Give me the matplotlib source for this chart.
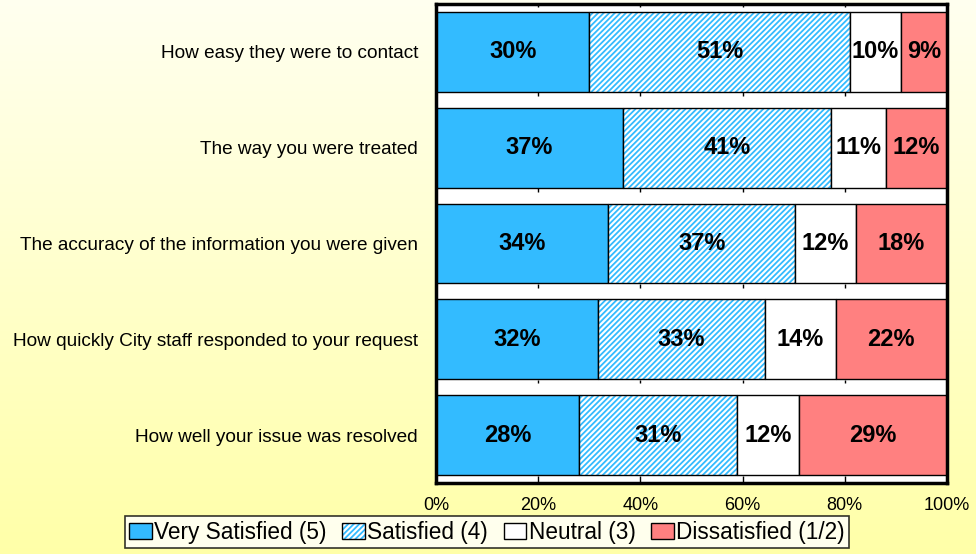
import numpy as np
import matplotlib.pyplot as plt
from matplotlib.patches import Patch

plt.rcParams["font.family"] = ["Liberation Sans", "DejaVu Sans"]
plt.rcParams["hatch.linewidth"] = 1.3

categories = [
    "How easy they were to contact",
    "The way you were treated",
    "The accuracy of the information you were given",
    "How quickly City staff responded to your request",
    "How well your issue was resolved",
]
very_satisfied = [30, 37, 34, 32, 28]
satisfied = [51, 41, 37, 33, 31]
neutral = [10, 11, 12, 14, 12]
dissatisfied = [9, 12, 18, 22, 29]
series_names = ["Very Satisfied (5)", "Satisfied (4)", "Neutral (3)", "Dissatisfied (1/2)"]

blue = "#33BBFF"
red = "#FF8080"
hatch = "//////"

fig = plt.figure(figsize=(9.76, 5.54), dpi=100)

# gradient background
bg = fig.add_axes([0, 0, 1, 1], zorder=-10)
grad = np.linspace(0, 1, 256)[:, None]
top = np.array([1.0, 1.0, 0.94])
bot = np.array([1.0, 1.0, 0.66])
img = top[None, None, :] * (1 - grad[..., None]) + bot[None, None, :] * grad[..., None]
bg.imshow(img, aspect="auto", extent=[0, 1, 0, 1])
bg.axis("off")

ax = fig.add_axes([436 / 976, 1 - 483 / 554, 511 / 976, 479 / 554])
ax.set_facecolor("white")

data = np.array([very_satisfied, satisfied, neutral, dissatisfied], dtype=float)
share = data / data.sum(axis=0) * 100
y = np.arange(len(categories))
h = 0.835

left = np.zeros(len(categories))
for k in range(4):
    if k == 1:
        ax.barh(y, share[k], left=left, height=h, color="white", edgecolor=blue,
                hatch=hatch, linewidth=0)
        ax.barh(y, share[k], left=left, height=h, color="none", edgecolor="black",
                linewidth=1)
    else:
        fc = [blue, None, "white", red][k]
        ax.barh(y, share[k], left=left, height=h, color=fc, edgecolor="black",
                linewidth=1)
    for i in range(len(categories)):
        ax.text(left[i] + share[k][i] / 2, y[i], f"{int(data[k][i])}%",
                ha="center", va="center", fontsize=17, fontweight="bold")
    left += share[k]

ax.set_xlim(0, 100)
ax.set_ylim(len(categories) - 0.5, -0.5)
ax.set_yticks(y)
ax.set_yticklabels(categories, fontsize=13.7)
ax.tick_params(axis="y", length=0, pad=13)
ax.set_xticks(np.arange(0, 101, 20))
ax.set_xticklabels([f"{v}%" for v in range(0, 101, 20)], fontsize=13)
ax.tick_params(axis="x", direction="in", length=5, width=1, pad=10)

# small marks at the top of each gap between bars
ticks = np.arange(20, 100, 20)
ax.vlines(ticks, -0.5, -0.47, color="black", lw=1)
for b in np.arange(0.5, len(categories) - 1, 1.0):
    ax.vlines(ticks, b - 0.08, b - 0.04, color="black", lw=1)

for s in ax.spines.values():
    s.set_linewidth(2.5)

handles = [
    Patch(facecolor=blue, edgecolor="black"),
    (Patch(facecolor="white", edgecolor=blue, hatch=hatch, linewidth=0),
     Patch(facecolor="none", edgecolor="black")),
    Patch(facecolor="white", edgecolor="black"),
    Patch(facecolor=red, edgecolor="black"),
]
leg = fig.legend(handles, series_names, loc="center", ncol=4,
                 bbox_to_anchor=(487 / 976, 1 - 532 / 554), fontsize=16.3,
                 frameon=True, fancybox=False, edgecolor="black",
                 handlelength=1.0, handleheight=0.7, handletextpad=0.1,
                 columnspacing=0.7, borderpad=0.2)
leg.get_frame().set_linewidth(1.2)
leg.get_frame().set_facecolor("white")

fig.savefig("out.png", dpi=100)
